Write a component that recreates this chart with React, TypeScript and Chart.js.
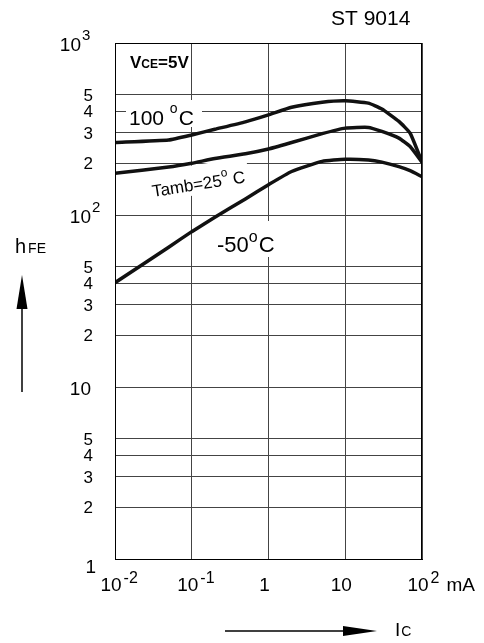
import React, { useEffect, useRef } from "react";
import { Chart, registerables } from "chart.js";

Chart.register(...registerables);

// ---- data ----
const IC_MA = [0.01, 0.05, 0.1, 0.2, 0.5, 1, 2, 5, 10, 20, 30, 50, 70, 100];
const HFE_100C = [264, 273, 292, 315, 348, 382, 423, 452, 461, 447, 413, 350, 299, 203];
const HFE_25C = [175, 190, 200, 213, 227, 242, 264, 297, 320, 323, 306, 280, 250, 203];
const HFE_M50C = [40.4, 65, 80, 97, 124, 150, 179, 205, 211, 209, 203, 191, 181, 167];

const X_TICKS = [0.01, 0.1, 1, 10, 100];
const X_TICK_BASE = ["10", "10", "1", "10", "10"];
const X_TICK_EXP = ["-2", "-1", "", "", "2"];

const Y_TICKS = [1, 2, 3, 4, 5, 10, 20, 30, 40, 50, 100, 200, 300, 400, 500, 1000];
const Y_TICK_BASE = ["1", "2", "3", "4", "5", "10", "2", "3", "4", "5", "10", "2", "3", "4", "5", "10"];
const Y_TICK_EXP = ["", "", "", "", "", "", "", "", "", "", "2", "", "", "", "", "3"];

const FONT = '"Liberation Sans", Arial, Helvetica, sans-serif';
const f = (size: number, bold = false) => `${bold ? "bold " : ""}${size}px ${FONT}`;

type Part = { t: string; size: number; dy?: number; bold?: boolean; gap?: number };

function drawParts(ctx: CanvasRenderingContext2D, parts: Part[], x: number, y: number) {
  let cx = x;
  for (const p of parts) {
    cx += p.gap || 0;
    ctx.font = f(p.size, p.bold);
    ctx.fillText(p.t, cx, y + (p.dy || 0));
    cx += ctx.measureText(p.t).width;
  }
}

const deco = {
  id: "deco",
  beforeDatasetsDraw(chart: any) {
    const ctx: CanvasRenderingContext2D = chart.ctx;
    ctx.save();
    ctx.fillStyle = "#fff";
    ctx.fillRect(126, 100, 76, 27);
    ctx.fillRect(214, 221, 64, 36);
    ctx.translate(153, 197);
    ctx.rotate((-9 * Math.PI) / 180);
    ctx.fillRect(-4, -25, 102, 30);
    ctx.restore();
  },
  afterDraw(chart: any) {
    const ctx: CanvasRenderingContext2D = chart.ctx;
    const xs = chart.scales.x;
    const ys = chart.scales.y;
    const area = chart.chartArea;
    ctx.save();
    ctx.fillStyle = "#000";
    ctx.strokeStyle = "#000";
    ctx.lineWidth = 1;
    ctx.strokeRect(Math.round(area.left) + 0.5, Math.round(area.top) + 0.5,
      Math.round(area.right - area.left) - 1, Math.round(area.bottom - area.top));
    ctx.textBaseline = "alphabetic";
    ctx.textAlign = "left";

    // y tick labels
    Y_TICKS.forEach((v, i) => {
      const py = ys.getPixelForValue(v);
      const base = Y_TICK_BASE[i];
      const exp = Y_TICK_EXP[i];
      if (base === "10") {
        ctx.font = f(19);
        const w = ctx.measureText(base).width;
        const right = exp === "3" ? 81 : 91;
        ctx.fillText(base, right - w, py + 8);
        if (exp) {
          ctx.font = f(15);
          ctx.fillText(exp, right + 1, py - 3);
        }
      } else if (base === "1") {
        ctx.font = f(19);
        const w = ctx.measureText(base).width;
        ctx.fillText(base, 96 - w, py + 14);
      } else {
        ctx.font = f(17);
        const w = ctx.measureText(base).width;
        ctx.fillText(base, 93 - w, py + 6);
      }
    });

    // x tick labels
    X_TICKS.forEach((v, i) => {
      const px = xs.getPixelForValue(v);
      const base = X_TICK_BASE[i];
      const exp = X_TICK_EXP[i];
      ctx.font = f(19);
      const w = ctx.measureText(base).width;
      const left = px - 4 - w / 2;
      ctx.fillText(base, left, 591);
      let end = left + w;
      if (exp) {
        ctx.font = f(16);
        ctx.fillText(exp, end + 2, 583);
        end += 2 + ctx.measureText(exp).width;
      }
      if (i === X_TICKS.length - 1) {
        ctx.font = f(19);
        ctx.fillText("mA", end + 7, 591);
      }
    });

    // titles and annotations
    ctx.font = f(21);
    ctx.fillText("ST 9014", 331, 25);

    drawParts(ctx, [
      { t: "V", size: 17, bold: true },
      { t: "CE", size: 12, bold: true },
      { t: "=5V", size: 17, bold: true },
    ], 130, 68);

    drawParts(ctx, [
      { t: "100 ", size: 21 },
      { t: "o", size: 14, dy: -12 },
      { t: "C", size: 21, gap: 1 },
    ], 129, 125);

    drawParts(ctx, [
      { t: "-50", size: 22 },
      { t: "o", size: 16, dy: -10 },
      { t: "C", size: 22, gap: 1 },
    ], 217, 252);

    ctx.save();
    ctx.translate(153, 197);
    ctx.rotate((-9 * Math.PI) / 180);
    drawParts(ctx, [
      { t: "Tamb=25", size: 17 },
      { t: "o", size: 12, dy: -9 },
      { t: " C", size: 17 },
    ], 0, 0);
    ctx.restore();

    // axis names
    drawParts(ctx, [
      { t: "h", size: 20 },
      { t: "FE", size: 14, gap: 2 },
    ], 15, 253);
    drawParts(ctx, [
      { t: "I", size: 19 },
      { t: "C", size: 14, gap: 1 },
    ], 395, 636);

    // arrows
    ctx.lineWidth = 1.5;
    ctx.beginPath();
    ctx.moveTo(22, 392);
    ctx.lineTo(22, 305);
    ctx.stroke();
    ctx.beginPath();
    ctx.moveTo(22, 275);
    ctx.lineTo(16.5, 309);
    ctx.lineTo(27.5, 309);
    ctx.closePath();
    ctx.fill();

    ctx.beginPath();
    ctx.moveTo(225, 631);
    ctx.lineTo(345, 631);
    ctx.stroke();
    ctx.beginPath();
    ctx.moveTo(377, 631);
    ctx.lineTo(343, 626);
    ctx.lineTo(343, 636);
    ctx.closePath();
    ctx.fill();

    ctx.restore();
  },
};

function series(ys: number[]) {
  return IC_MA.map((x, i) => ({ x, y: ys[i] }));
}

export default function App() {
  const ref = useRef<HTMLCanvasElement | null>(null);
  useEffect(() => {
    if (!ref.current) return;
    const ds = (label: string, ys: number[]) => ({
      label,
      data: series(ys),
      borderColor: "#111",
      borderWidth: 3.5,
      pointRadius: 0,
      tension: 0.15,
      fill: false,
    });
    const chart = new Chart(ref.current, {
      type: "line",
      data: {
        datasets: [ds("100 °C", HFE_100C), ds("Tamb=25 °C", HFE_25C), ds("-50 °C", HFE_M50C)],
      },
      options: {
        animation: false,
        responsive: false,
        devicePixelRatio: 1,
        layout: { padding: { left: 115, right: 62, top: 43, bottom: 84 } },
        plugins: { legend: { display: false }, tooltip: { enabled: false } },
        scales: {
          x: {
            type: "logarithmic",
            min: 0.01,
            max: 100,
            afterBuildTicks: (s: any) => {
              s.ticks = X_TICKS.map((value) => ({ value }));
            },
            ticks: { display: false },
            grid: { color: "#444", lineWidth: 1, drawTicks: false },
            border: { color: "#000", width: 1 },
          },
          y: {
            type: "logarithmic",
            min: 1,
            max: 1000,
            afterBuildTicks: (s: any) => {
              s.ticks = Y_TICKS.map((value) => ({ value }));
            },
            ticks: { display: false },
            grid: { color: "#444", lineWidth: 1, drawTicks: false },
            border: { color: "#000", width: 1 },
          },
        },
      } as any,
      plugins: [deco],
    });
    return () => chart.destroy();
  }, []);
  return (
    <div style={{ position: "absolute", left: 0, top: 0, width: 484, height: 643, background: "#fff" }}>
      <canvas ref={ref} width={484} height={643} />
    </div>
  );
}
